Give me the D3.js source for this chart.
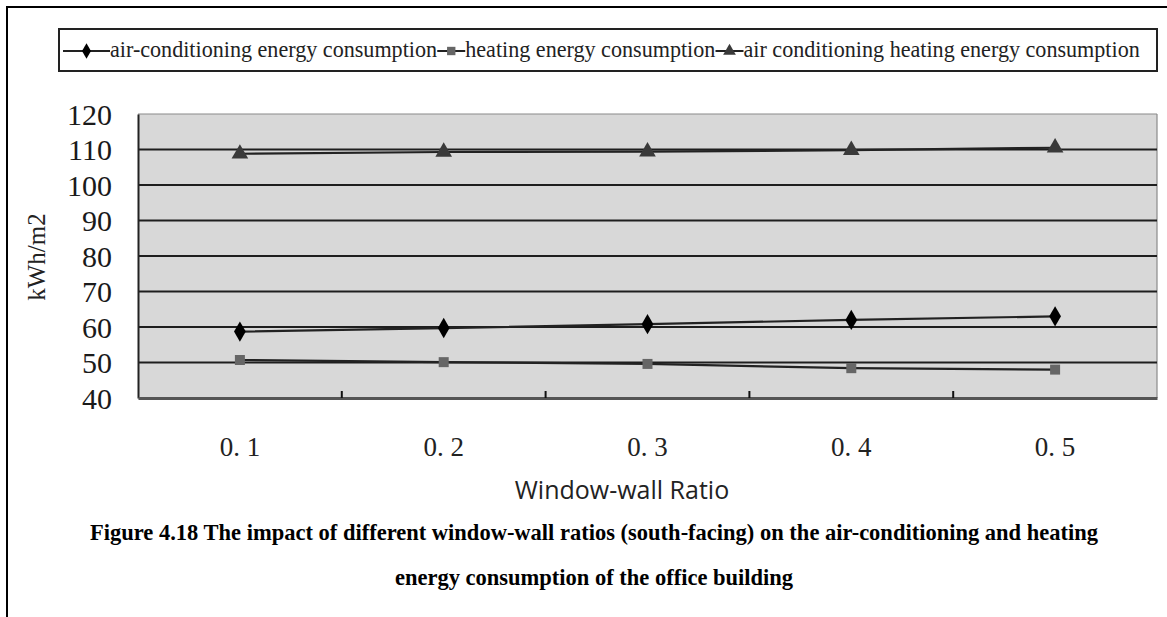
<!DOCTYPE html>
<html>
<head>
<meta charset="utf-8">
<script src="https://cdn.jsdelivr.net/npm/d3@7"></script>
<style>
  html, body { margin: 0; padding: 0; background: #fff; }
  svg { display: block; }
</style>
</head>
<body>
<svg id="chart" width="1167" height="617"></svg>
<script>
// Window-wall ratio categories (south-facing)
const ratios = ["0.1", "0.2", "0.3", "0.4", "0.5"];
const ratioLabels = ["0. 1", "0. 2", "0. 3", "0. 4", "0. 5"];

// Energy consumption, kWh/m2
const airConditioning = [58.7, 59.7, 60.8, 62.0, 63.0];
const heating = [50.7, 50.1, 49.6, 48.4, 48.0];
const acHeating = [108.8, 109.3, 109.4, 109.8, 110.5];

const yTicks = [40, 50, 60, 70, 80, 90, 100, 110, 120];

const seriesNames = [
  "air-conditioning energy consumption",
  "heating energy consumption",
  "air conditioning heating energy consumption"
];

const svg = d3.select("#chart");

// outer frame (top and left edges)
svg.append("path")
  .attr("d", "M7,617 L7,7 L1167,7")
  .attr("fill", "none").attr("stroke", "#000").attr("stroke-width", 2);

const plot = { left: 138, right: 1157, top: 114, bottom: 398 };

const x = d3.scaleBand().domain(ratios).range([plot.left, plot.right]).paddingInner(0).paddingOuter(0);
const y = d3.scaleLinear().domain([40, 120]).range([plot.bottom, plot.top]);

// plot background
svg.append("rect")
  .attr("x", plot.left).attr("y", plot.top)
  .attr("width", plot.right - plot.left).attr("height", plot.bottom - plot.top)
  .attr("fill", "#d8d8d8");

// frame of plot area
svg.append("line").attr("x1", plot.left).attr("x2", plot.right).attr("y1", plot.top).attr("y2", plot.top)
  .attr("stroke", "#8a8a8a").attr("stroke-width", 1.2);
svg.append("line").attr("x1", plot.right).attr("x2", plot.right).attr("y1", plot.top).attr("y2", plot.bottom)
  .attr("stroke", "#8a8a8a").attr("stroke-width", 1.2);

// horizontal gridlines
svg.append("g").selectAll("line")
  .data(yTicks.filter(d => d > 40 && d < 120))
  .join("line")
  .attr("x1", plot.left).attr("x2", plot.right)
  .attr("y1", d => y(d)).attr("y2", d => y(d))
  .attr("stroke", "#1e1e1e").attr("stroke-width", 2);

// y axis
const yAxis = d3.axisLeft(y).tickValues(yTicks).tickSize(0).tickPadding(26);
const gy = svg.append("g").attr("transform", `translate(${plot.left},0)`).call(yAxis);
gy.select(".domain").attr("stroke", "#222").attr("stroke-width", 2);
gy.selectAll("text")
  .attr("font-family", "Liberation Serif, serif")
  .attr("font-size", 30)
  .attr("fill", "#1a1a1a")
  .attr("dy", "0.34em");

// x axis
const xAxis = d3.axisBottom(x).tickSize(0).tickPadding(39).tickFormat((d, i) => ratioLabels[i]);
const gx = svg.append("g").attr("transform", `translate(0,${plot.bottom})`).call(xAxis);
gx.select(".domain").attr("stroke", "#555").attr("stroke-width", 3);
gx.selectAll("text")
  .attr("font-family", "Liberation Serif, serif")
  .attr("font-size", 27)
  .attr("fill", "#222");

// category boundary tick marks
svg.append("g").selectAll("line")
  .data(ratios.slice(1))
  .join("line")
  .attr("x1", d => x(d)).attr("x2", d => x(d))
  .attr("y1", plot.bottom).attr("y2", plot.bottom - 7)
  .attr("stroke", "#111").attr("stroke-width", 2);

// axis titles
svg.append("text")
  .attr("transform", `translate(45,257) rotate(-90)`)
  .attr("text-anchor", "middle")
  .attr("font-family", "Liberation Serif, serif")
  .attr("font-size", 25)
  .attr("fill", "#222")
  .text("kWh/m2");

svg.append("text")
  .attr("x", 622).attr("y", 499)
  .attr("text-anchor", "middle")
  .attr("font-family", "Open Sans, sans-serif")
  .attr("font-size", 25)
  .attr("fill", "#222")
  .text("Window-wall Ratio");

// series
const series = [
  { name: seriesNames[0], values: airConditioning, symbol: d3.symbolDiamond, size: 120, color: "#000" },
  { name: seriesNames[1], values: heating, symbol: d3.symbolSquare, size: 100, color: "#666" },
  { name: seriesNames[2], values: acHeating, symbol: d3.symbolTriangle, size: 120, color: "#3a3a3a" }
];

const cx = d => x(d) + x.bandwidth() / 2;
const line = d3.line().x(d => cx(d.r)).y(d => y(d.v));

series.forEach(s => {
  const pts = ratios.map((r, i) => ({ r, v: s.values[i] }));
  svg.append("path")
    .datum(pts)
    .attr("d", line)
    .attr("fill", "none")
    .attr("stroke", "#222")
    .attr("stroke-width", 2.2);
  svg.append("g").selectAll("path")
    .data(pts)
    .join("path")
    .attr("transform", d => `translate(${cx(d.r)},${y(d.v)})`)
    .attr("d", d3.symbol().type(s.symbol).size(s.size))
    .attr("fill", s.color);
});

// legend
const legend = { left: 59, right: 1157, top: 29, bottom: 71 };
svg.append("rect")
  .attr("x", legend.left).attr("y", legend.top)
  .attr("width", legend.right - legend.left).attr("height", legend.bottom - legend.top)
  .attr("fill", "#fff").attr("stroke", "#222").attr("stroke-width", 2);

const legendG = svg.append("g");
const segWidths = [47, 28, 28];
const startX = 63, endX = 1140;
// measure text at a reference size, then scale to fill the legend row
const probe = legendG.selectAll("text.probe").data(series).join("text")
  .attr("font-family", "Liberation Serif, serif").attr("font-size", 20)
  .text(d => d.name);
const widths = probe.nodes().map(n => n.getComputedTextLength());
probe.remove();
const fs = 20 * (endX - startX - d3.sum(segWidths)) / d3.sum(widths);

let cursor = startX;
series.forEach((s, i) => {
  const ly = 51;
  const w = segWidths[i];
  legendG.append("line")
    .attr("x1", cursor).attr("x2", cursor + w)
    .attr("y1", ly).attr("y2", ly)
    .attr("stroke", "#222").attr("stroke-width", 2);
  legendG.append("path")
    .attr("transform", `translate(${cursor + w / 2},${ly})`)
    .attr("d", d3.symbol().type(s.symbol).size(70))
    .attr("fill", s.color);
  legendG.append("text")
    .attr("x", cursor + w).attr("y", 57)
    .attr("font-family", "Liberation Serif, serif")
    .attr("font-size", fs)
    .attr("fill", "#222")
    .text(s.name);
  cursor += w + widths[i] * fs / 20;
});

// caption
const caption = svg.append("g")
  .attr("font-family", "Liberation Serif, serif")
  .attr("font-weight", "bold")
  .attr("fill", "#000")
  .attr("text-anchor", "middle");
caption.append("text")
  .attr("x", 594).attr("y", 540)
  .attr("font-size", 22.5)
  .text("Figure 4.18 The impact of different window-wall ratios (south-facing) on the air-conditioning and heating");
caption.append("text")
  .attr("x", 594).attr("y", 585)
  .attr("font-size", 22.5)
  .text("energy consumption of the office building");
</script>
</body>
</html>
